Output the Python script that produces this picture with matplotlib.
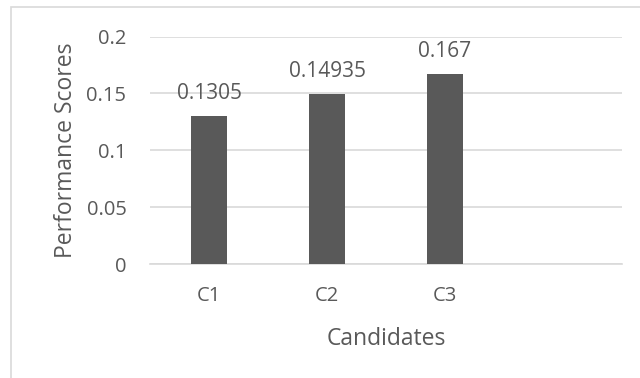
import matplotlib.pyplot as plt
from matplotlib.patches import Rectangle

candidates = ['C1', 'C2', 'C3', '']
scores = [0.1305, 0.14935, 0.167, None]
labels = ['0.1305', '0.14935', '0.167']
yticks = [0, 0.05, 0.1, 0.15, 0.2]

plt.rcParams['font.family'] = ['Open Sans', 'DejaVu Sans']
txt = '#595959'

fig = plt.figure(figsize=(6.4, 3.78), dpi=100)
ax = fig.add_axes([150 / 640, 1 - 264 / 378, 472 / 640, 227.5 / 378])

# chart border (excel style), runs off the bottom of the image
fig.patches.append(Rectangle((11 / 640, -0.1), 1.2, 1 - 7 / 378 + 0.1,
                             transform=fig.transFigure, fill=False,
                             edgecolor='#d9d9d9', linewidth=1.2))

xs = range(len(candidates))
vals = [v if v is not None else 0 for v in scores]
bars = ax.bar(xs, vals, width=0.31, color='#595959', zorder=3)

for i, lab in enumerate(labels):
    ax.annotate(lab, (i, scores[i]), xytext=(0, 8.5), textcoords='offset points',
                ha='center', va='bottom', fontsize=15, color=txt)

ax.set_xlim(-0.5, len(candidates) - 0.5)
ax.set_ylim(0, 0.2)
ax.set_yticks(yticks)
ax.set_yticklabels(['0', '0.05', '0.1', '0.15', '0.2'])
ax.set_xticks(list(xs))
ax.set_xticklabels(candidates)
ax.tick_params(length=0, labelsize=14.5, labelcolor=txt)
ax.tick_params(axis='y', pad=17)
ax.tick_params(axis='x', pad=16)
ax.grid(axis='y', color='#d9d9d9', linewidth=1.2, zorder=0)
for s in ['top', 'right', 'left']:
    ax.spines[s].set_visible(False)
ax.spines['bottom'].set_color('#d9d9d9')
ax.spines['bottom'].set_linewidth(1.2)

ax.set_xlabel('Candidates', fontsize=16.5, color=txt, labelpad=15)
ax.set_ylabel('Performance Scores', fontsize=16.5, color=txt, labelpad=6)

fig.savefig('out.png', dpi=100)
